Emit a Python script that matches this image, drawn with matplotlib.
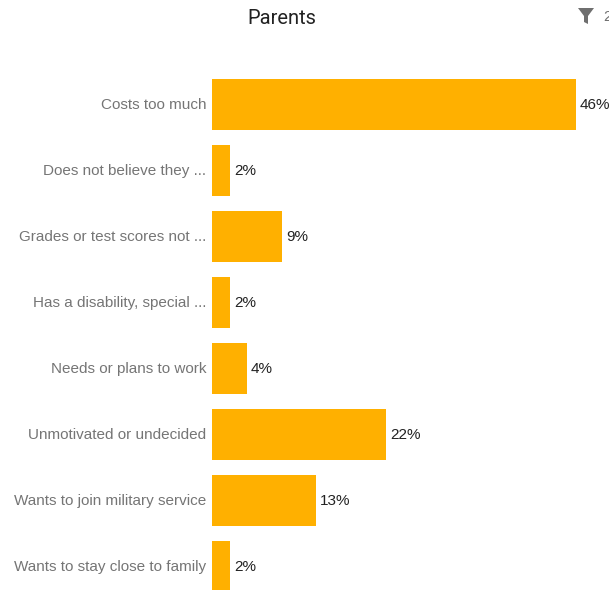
import matplotlib
matplotlib.use('Agg')
import matplotlib.pyplot as plt
from matplotlib.patches import Polygon
from matplotlib.transforms import ScaledTranslation

categories = ['Costs too much', 'Does not believe they ...', 'Grades or test scores not ...',
              'Has a disability, special ...', 'Needs or plans to work',
              'Unmotivated or undecided', 'Wants to join military service',
              'Wants to stay close to family']
values = [46, 2, 9, 2, 4, 22, 13, 2]
bar_lengths = [45.8, 2.3, 8.85, 2.3, 4.4, 21.9, 13.1, 2.3]

W, H = 609, 590
plt.rcParams['font.family'] = ['Liberation Sans', 'DejaVu Sans']
fig = plt.figure(figsize=(W / 100, H / 100), dpi=100)

# axes box in pixels, rows are 66px apart
left, right = 212, 609
top, bottom = 71.3, 599.3
ax = fig.add_axes([left / W, 1 - bottom / H, (right - left) / W, (bottom - top) / H])
ax.set_ylim(7.5, -0.5)
ax.set_xlim(0, 49.9)
ax.barh(range(len(categories)), bar_lengths, height=0.77, color='#FFB000')
ax.set_yticks(range(len(categories)))
ax.set_yticklabels(categories, fontsize=10.95, color='#757575')
ax.tick_params(axis='y', length=0, pad=4.3)
ax.xaxis.set_visible(False)
for s in ax.spines.values():
    s.set_visible(False)

# tick labels sit about 1px too low otherwise
up_1px = ScaledTranslation(0, 1 / 100, fig.dpi_scale_trans)
for lbl in ax.get_yticklabels():
    lbl.set_transform(lbl.get_transform() + up_1px)

for i, (v, b) in enumerate(zip(values, bar_lengths)):
    ax.annotate(f'{v}%', (b, i), xytext=(2.6, -0.7), textcoords='offset points',
                va='center', ha='left', fontsize=10.95, color='#222222', annotation_clip=False)

fig.text(281.5 / W, 1 - 18.5 / H, 'Parents', fontsize=14.5, color='#222222', ha='center', va='center',
         family=['Roboto', 'DejaVu Sans'])

# filter icon and count at top right
icon = [(578, 8), (594, 8), (588, 16), (588, 24), (584, 22), (584, 16)]
fig.add_artist(Polygon([(x / W, 1 - y / H) for x, y in icon], closed=True,
                       transform=fig.transFigure, color='#6f6f6f', lw=0))
fig.text(603 / W, 1 - 17 / H, '2', fontsize=10.95, color='#6f6f6f', ha='left', va='center')

fig.savefig('out.png', dpi=100, facecolor='white')
